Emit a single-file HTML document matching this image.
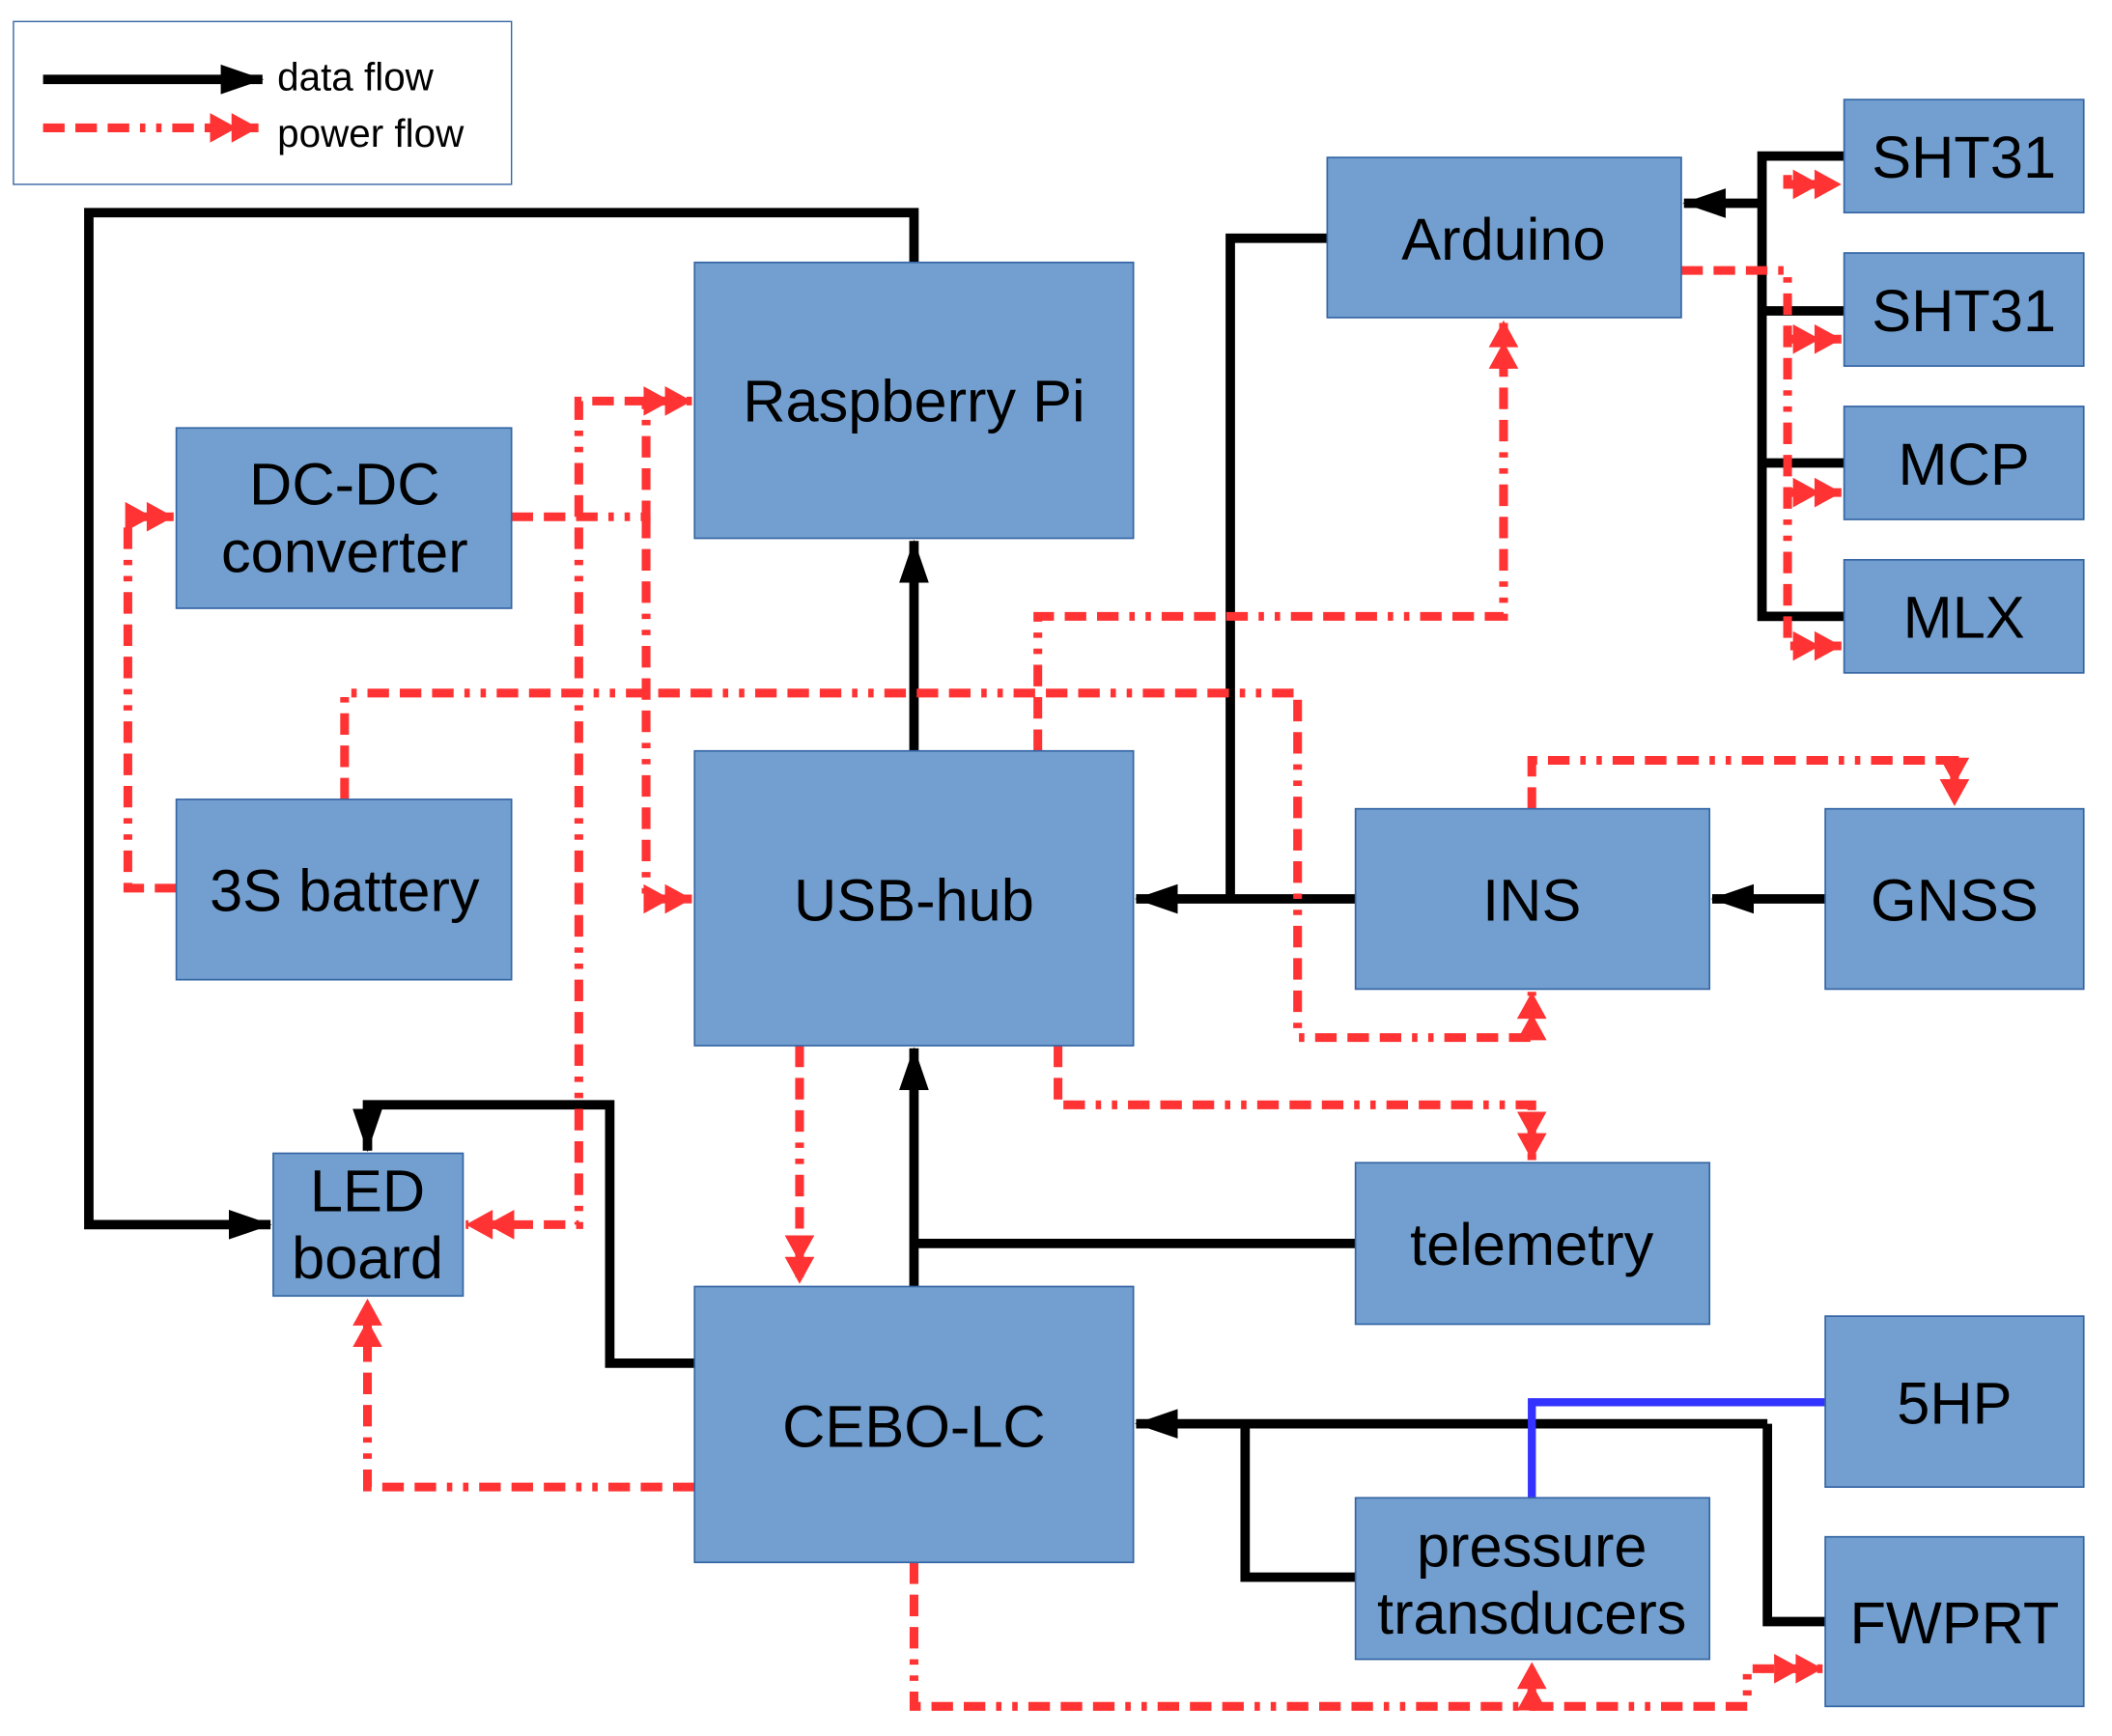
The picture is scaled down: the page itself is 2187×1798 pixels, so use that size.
<!DOCTYPE html>
<html><head><meta charset="utf-8"><style>
html,body{margin:0;padding:0;background:#fff;}
svg{display:block;}
text{font-family:"Liberation Sans",sans-serif;fill:#000;}
</style></head><body>
<svg width="2187" height="1798" viewBox="0 0 1569 1290" preserveAspectRatio="none" xmlns="http://www.w3.org/2000/svg">
<defs>
<marker id="ab" markerUnits="userSpaceOnUse" markerWidth="32" markerHeight="24" refX="31" refY="12" orient="auto">
<path d="M0,1 L32,12 L0,23 z" fill="#000"/></marker>
<marker id="ar" markerUnits="userSpaceOnUse" markerWidth="36" markerHeight="22" refX="36" refY="11" orient="auto">
<path d="M0,0 L20,11 L0,22 z M16,0 L36,11 L16,22 z" fill="#ff3333"/></marker>
</defs>
<style>
.b{fill:#729fcf;stroke:#3465a4;stroke-width:1.2}
.k{fill:none;stroke:#000;stroke-width:7}
.r{fill:none;stroke:#ff3333;stroke-width:6.5;stroke-dasharray:16,8,16,8,16,8,4,8,4,8}
.t{font-size:44px;text-anchor:middle}
</style>
<rect x="10" y="16" width="370" height="121" fill="#fff" stroke="#3465a4" stroke-width="1"/>
<path class="k" d="M32,59 H195" marker-end="url(#ab)"/>
<path class="r" d="M32,95 H192" marker-end="url(#ar)"/>
<text x="206" y="67" font-size="29">data flow</text>
<text x="206" y="109" font-size="29">power flow</text>

<!-- black -->
<path class="k" d="M679,195 V158 H66 V910 H201" marker-end="url(#ab)"/>
<path class="k" d="M679,558 V402" marker-end="url(#ab)"/>
<path class="k" d="M679,956 V779" marker-end="url(#ab)"/>
<path class="k" d="M1007,924 H679"/>
<path class="k" d="M516,1013 H453 V821 H273 V855" marker-end="url(#ab)"/>
<path class="k" d="M986,177 H914 V668"/>
<path class="k" d="M1007,668 H844" marker-end="url(#ab)"/>
<path class="k" d="M1356,668 H1272" marker-end="url(#ab)"/>
<path class="k" d="M1370,116 H1309 V458 H1370 M1309,231 H1370 M1309,344 H1370"/>
<path class="k" d="M1309,151 H1251" marker-end="url(#ab)"/>
<path class="k" d="M1313,1058 H844" marker-end="url(#ab)"/>
<path class="k" d="M1313,1058 V1205 H1356"/>
<path class="k" d="M925,1058 V1172 H1007"/>
<path d="M1356,1042 H1138 V1113" fill="none" stroke="#3333ff" stroke-width="6"/>

<!-- red -->
<path class="r" d="M131,660 H95 V384 H129" marker-end="url(#ar)"/>
<path class="r" d="M380,384 H480 V298 H514" marker-end="url(#ar)"/>
<path class="r" d="M480,384 V668 H514" marker-end="url(#ar)"/>
<path class="r" d="M480,298 H430 V910 H346" marker-end="url(#ar)"/>
<path class="r" d="M256,594 V515 H964 V771 H1138 V737" marker-end="url(#ar)"/>
<path class="r" d="M771,558 V458 H1117 V238" marker-end="url(#ar)"/>
<path class="r" d="M1249,201 H1328 V480 H1368" marker-end="url(#ar)"/>
<path class="r" d="M1328,130 V137 H1368" marker-end="url(#ar)"/>
<path class="r" d="M1328,252 H1368" marker-end="url(#ar)"/>
<path class="r" d="M1328,366 H1368" marker-end="url(#ar)"/>
<path class="r" d="M1138,601 V565 H1452 V599" marker-end="url(#ar)"/>
<path class="r" d="M786,777 V821 H1138 V862" marker-end="url(#ar)"/>
<path class="r" d="M594,777 V954" marker-end="url(#ar)"/>
<path class="r" d="M516,1105 H273 V965" marker-end="url(#ar)"/>
<path class="r" d="M679,1161 V1268 H1138 V1235" marker-end="url(#ar)"/>
<path class="r" d="M1138,1268 H1298 V1240 H1354" marker-end="url(#ar)"/>

<!-- boxes -->
<rect class="b" x="516" y="195" width="326" height="205"/>
<rect class="b" x="131" y="318" width="249" height="134"/>
<rect class="b" x="131" y="594" width="249" height="134"/>
<rect class="b" x="516" y="558" width="326" height="219"/>
<rect class="b" x="203" y="857" width="141" height="106"/>
<rect class="b" x="516" y="956" width="326" height="205"/>
<rect class="b" x="986" y="117" width="263" height="119"/>
<rect class="b" x="1370" y="74" width="178" height="84"/>
<rect class="b" x="1370" y="188" width="178" height="84"/>
<rect class="b" x="1370" y="302" width="178" height="84"/>
<rect class="b" x="1370" y="416" width="178" height="84"/>
<rect class="b" x="1007" y="601" width="263" height="134"/>
<rect class="b" x="1356" y="601" width="192" height="134"/>
<rect class="b" x="1007" y="864" width="263" height="120"/>
<rect class="b" x="1356" y="978" width="192" height="127"/>
<rect class="b" x="1007" y="1113" width="263" height="120"/>
<rect class="b" x="1356" y="1142" width="192" height="126"/>

<text class="t" x="679" y="313">Raspberry Pi</text>
<text class="t" x="256" y="375">DC-DC</text>
<text class="t" x="256" y="425">converter</text>
<text class="t" x="256" y="677">3S battery</text>
<text class="t" x="679" y="684">USB-hub</text>
<text class="t" x="273" y="900">LED</text>
<text class="t" x="273" y="950">board</text>
<text class="t" x="679" y="1075">CEBO-LC</text>
<text class="t" x="1117" y="193">Arduino</text>
<text class="t" x="1459" y="132">SHT31</text>
<text class="t" x="1459" y="246">SHT31</text>
<text class="t" x="1459" y="360">MCP</text>
<text class="t" x="1459" y="474">MLX</text>
<text class="t" x="1138" y="684">INS</text>
<text class="t" x="1452" y="684">GNSS</text>
<text class="t" x="1138" y="940">telemetry</text>
<text class="t" x="1452" y="1058">5HP</text>
<text class="t" x="1138" y="1164">pressure</text>
<text class="t" x="1138" y="1214">transducers</text>
<text class="t" x="1452" y="1221">FWPRT</text>
</svg>
</body></html>
